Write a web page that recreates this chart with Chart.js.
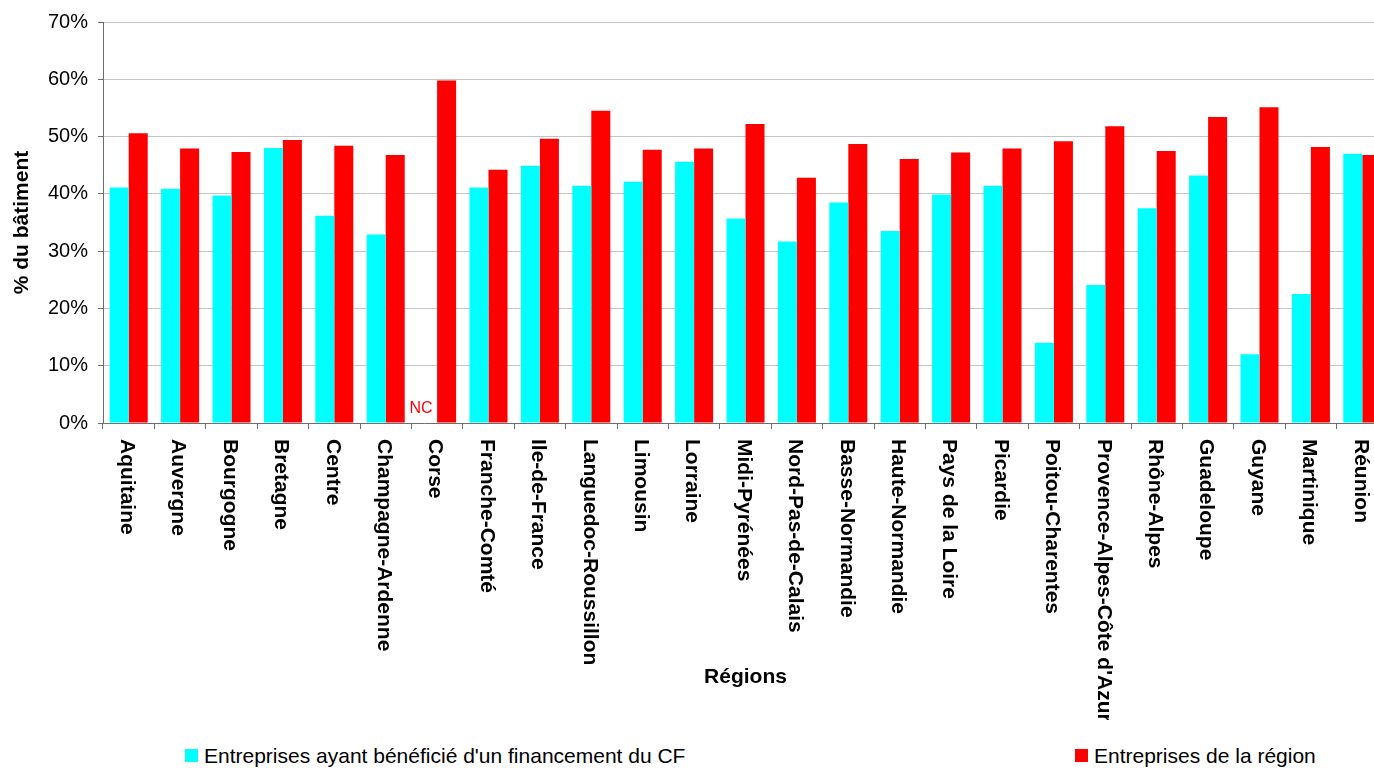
<!DOCTYPE html>
<html lang="fr">
<head>
<meta charset="utf-8">
<title>Entreprises du bâtiment par région</title>
<script src="https://cdn.jsdelivr.net/npm/chart.js@4.4.1/dist/chart.umd.min.js"></script>
<style>
  html, body { margin: 0; padding: 0; background: #fff; overflow: hidden; }
  #wrap { position: relative; width: 1374px; height: 768px; overflow: hidden; }
  #chart { position: absolute; left: 0; top: 0; }
  .leg { position: absolute; top: 745px; height: 21px; display: flex; align-items: center;
         font-family: Arial, "Liberation Sans", sans-serif; font-size: 21px; color: #000; white-space: nowrap; }
  .sw { width: 13px; height: 13px; margin-right: 6px; display: inline-block; }
</style>
</head>
<body>
<div id="wrap">
  <canvas id="chart" width="1390" height="720" style="width:1390px;height:720px"></canvas>
  <div class="leg" style="left:185px"><span class="sw" style="background:#00FFFF"></span><span id="leg1"></span></div>
  <div class="leg" style="left:1075px"><span class="sw" style="background:#FF0000"></span><span id="leg2"></span></div>
</div>
<script>
const categories = ["Aquitaine", "Auvergne", "Bourgogne", "Bretagne", "Centre", "Champagne-Ardenne", "Corse",
  "Franche-Comté", "Ile-de-France", "Languedoc-Roussillon", "Limousin", "Lorraine", "Midi-Pyrénées",
  "Nord-Pas-de-Calais", "Basse-Normandie", "Haute-Normandie", "Pays de la Loire", "Picardie",
  "Poitou-Charentes", "Provence-Alpes-Côte d'Azur", "Rhône-Alpes", "Guadeloupe", "Guyane", "Martinique", "Réunion"];

const cfValues = [41.1, 40.9, 39.7, 48.0, 36.2, 32.9, null, 41.1, 44.9, 41.4, 42.1, 45.6, 35.7,
  31.7, 38.5, 33.5, 39.9, 41.4, 14.0, 24.1, 37.5, 43.2, 12.0, 22.5, 47.0];

const regionValues = [50.6, 47.9, 47.3, 49.4, 48.4, 46.8, 59.8, 44.2, 49.6, 54.5, 47.7, 47.9, 52.2,
  42.8, 48.7, 46.1, 47.2, 47.9, 49.2, 51.8, 47.5, 53.4, 55.1, 48.2, 46.8];

const seriesNames = ["Entreprises ayant bénéficié d'un financement du CF", "Entreprises de la région"];
const yTicks = [0, 10, 20, 30, 40, 50, 60, 70];
const yTitle = "% du bâtiment";
const xTitle = "Régions";
const missingLabel = "NC";
const missingIndex = categories.indexOf("Corse");

document.getElementById('leg1').textContent = seriesNames[0];
document.getElementById('leg2').textContent = seriesNames[1];

const FONT = 'Arial, "Liberation Sans", sans-serif';

const xLabelsPlugin = {
  id: 'xLabels',
  afterDraw(chart) {
    const ctx = chart.ctx;
    const xs = chart.scales.x;
    const ys = chart.scales.y;
    const area = chart.chartArea;
    ctx.save();
    ctx.fillStyle = '#000';
    ctx.font = 'bold 21px ' + FONT;
    ctx.textAlign = 'left';
    ctx.textBaseline = 'middle';
    categories.forEach((c, i) => {
      const x = xs.getPixelForValue(i) - 2;
      ctx.save();
      ctx.translate(x, area.bottom + 16);
      ctx.rotate(Math.PI / 2);
      ctx.fillText(c, 0, 0);
      ctx.restore();
    });
    // NC annotation for missing value
    ctx.fillStyle = '#FF0000';
    ctx.font = '16px ' + FONT;
    ctx.textAlign = 'center';
    ctx.textBaseline = 'middle';
    ctx.fillText(missingLabel, xs.getPixelForValue(missingIndex) - 16, ys.getPixelForValue(2.6));
    ctx.restore();
  }
};

new Chart(document.getElementById('chart'), {
  type: 'bar',
  data: {
    labels: categories,
    datasets: [
      { label: seriesNames[0], data: cfValues, backgroundColor: '#00FFFF', borderWidth: 0,
        categoryPercentage: 0.74, barPercentage: 1.0 },
      { label: seriesNames[1], data: regionValues, backgroundColor: '#FF0000', borderWidth: 0,
        categoryPercentage: 0.74, barPercentage: 1.0 }
    ]
  },
  options: {
    responsive: false,
    animation: false,
    layout: { padding: { top: 18, right: 2, bottom: 0, left: 0 } },
    plugins: {
      legend: { display: false },
      tooltip: { enabled: false }
    },
    scales: {
      x: {
        offset: true,
        grid: { display: true, drawOnChartArea: false, drawTicks: true, tickLength: 6, color: '#6e6e6e' },
        border: { display: true, color: '#6e6e6e', width: 1 },
        ticks: { display: false },
        title: { display: true, text: xTitle, color: '#000',
                 font: { family: FONT, size: 21, weight: 'bold' }, padding: { top: 0, bottom: 30 } },
        afterFit(scale) { scale.height = 297; }
      },
      y: {
        min: 0, max: 70,
        afterBuildTicks(scale) { scale.ticks = yTicks.map(v => ({ value: v })); },
        grid: { color: '#c4c4c4', lineWidth: 1, drawTicks: true, tickLength: 5, tickColor: '#6e6e6e' },
        border: { display: true, color: '#6e6e6e', width: 1 },
        ticks: { color: '#000', padding: 10, font: { family: FONT, size: 20 },
                 callback: v => v + '%' },
        title: { display: true, text: yTitle, color: '#000',
                 font: { family: FONT, size: 21, weight: 'bold' }, padding: { top: 10, bottom: 0 } },
        afterFit(scale) { scale.width = 103; }
      }
    }
  },
  plugins: [xLabelsPlugin]
});
</script>
</body>
</html>
